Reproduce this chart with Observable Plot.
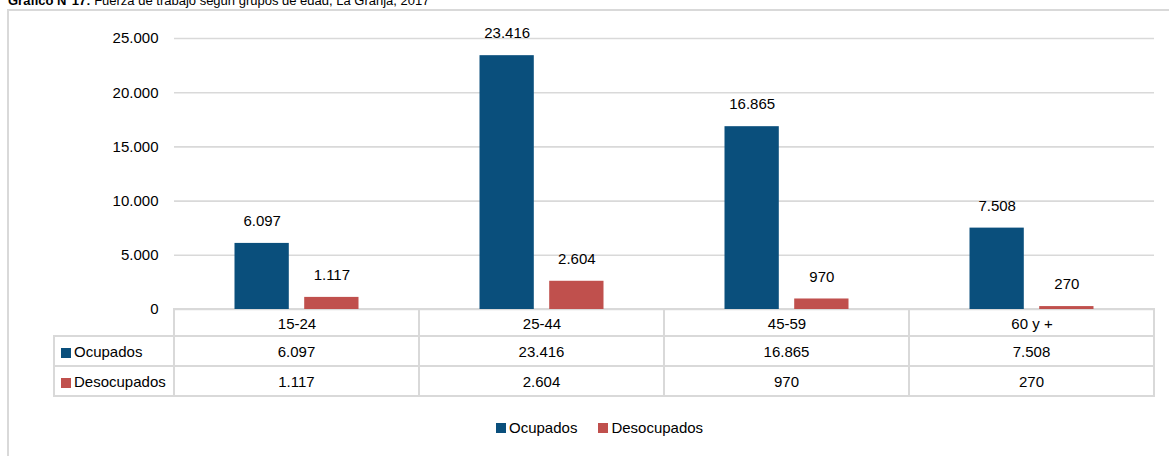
<!DOCTYPE html>
<html>
<head>
<meta charset="utf-8">
<script src="https://cdn.jsdelivr.net/npm/d3@7"></script>
<script src="https://cdn.jsdelivr.net/npm/@observablehq/plot@0.6"></script>
<style>
  body { margin:0; width:1169px; height:456px; overflow:hidden; position:relative; background:#fff;
         font-family:"Liberation Sans", Arial, sans-serif; color:#000; }
  #frame { position:absolute; left:7px; top:9px; width:1200px; height:520px; border:2px solid #d9d9d9; box-sizing:border-box; }
  #title { position:absolute; left:8px; top:-6px; font-size:13px; line-height:13px; white-space:nowrap; }
  #chart { position:absolute; left:0; top:0; z-index:2; }
  #tbl { position:absolute; left:53px; top:308px; border-collapse:collapse; table-layout:fixed; font-size:15px; z-index:1; }
  #tbl td { border:2px solid #d9d9d9; padding:0; text-align:center; }
  #tbl td.empty { border-top:none; border-left:none; }
  #tbl td.lab { text-align:left; padding-left:6px; white-space:nowrap; }
  .sw { display:inline-block; width:10px; height:10px; margin-right:3px; vertical-align:-1px; }
  #legend { position:absolute; left:496px; top:420px; font-size:15px; line-height:16px; display:flex; align-items:center; white-space:nowrap; }
  #legend .it { display:flex; align-items:center; }
</style>
</head>
<body>
<div id="frame"></div>
<div id="title"><b>Gráfico N°17:</b> Fuerza de trabajo según grupos de edad, La Granja, 2017</div>
<div id="chart"></div>
<table id="tbl"></table>
<div id="legend"></div>
<script>
const grupos = ["15-24", "25-44", "45-59", "60 y +"];
const series = ["Ocupados", "Desocupados"];
const ocupados = [6097, 23416, 16865, 7508];
const desocupados = [1117, 2604, 970, 270];
const colores = ["#0a4f7c", "#c0504d"];
const yTicks = [0, 5000, 10000, 15000, 20000, 25000];

const loc = d3.formatLocale({decimal: ",", thousands: ".", grouping: [3], currency: ["$", ""]});
const fmt = loc.format(",d");
const valores = [ocupados, desocupados];

const data = grupos.flatMap((g, i) => series.map((s, j) => ({grupo: g, serie: s, valor: valores[j][i]})));

const plot = Plot.plot({
  width: 1169, height: 336,
  marginTop: 38, marginBottom: 27, marginLeft: 174, marginRight: 15,
  style: {fontFamily: '"Liberation Sans", Arial, sans-serif', fontSize: "15px", color: "#000", background: "transparent", overflow: "visible"},
  fx: {domain: grupos, padding: 0, axis: "bottom", label: null, tickSize: 0, tickPadding: 9},
  x: {domain: series, paddingInner: 0.221, paddingOuter: 0.868, round: false, axis: null},
  y: {domain: [0, 25000], ticks: yTicks, tickFormat: fmt, tickSize: 0, tickPadding: 16, label: null},
  color: {domain: series, range: colores},
  marks: [
    Plot.gridY(yTicks, {stroke: "#d9d9d9", strokeOpacity: 1, strokeWidth: 1.6}),
    Plot.barY(data, {fx: "grupo", x: "serie", y: "valor", fill: "serie"}),
    Plot.text(data, {fx: "grupo", x: "serie", y: "valor", text: d => fmt(d.valor), dy: -22, fontSize: 15, fill: "#000"})
  ]
});
document.getElementById("chart").appendChild(plot);

// data table below the chart, built from the arrays
const tbl = document.getElementById("tbl");
const cg = document.createElement("colgroup");
[120, 245, 245, 245, 245].forEach(w => { const c = document.createElement("col"); c.style.width = w + "px"; cg.appendChild(c); });
tbl.appendChild(cg);
const hr = tbl.insertRow();
hr.style.height = "27px";
const e = hr.insertCell(); e.className = "empty";
grupos.forEach(() => hr.insertCell());
series.forEach((s, j) => {
  const r = tbl.insertRow();
  r.style.height = "30px";
  const c = r.insertCell(); c.className = "lab";
  c.innerHTML = `<span class="sw" style="background:${colores[j]}"></span>${s}`;
  valores[j].forEach(v => { r.insertCell().textContent = fmt(v); });
});

// legend
const lg = document.getElementById("legend");
series.forEach((s, j) => {
  const it = document.createElement("div");
  it.className = "it";
  it.style.marginRight = j === 0 ? "21px" : "0";
  it.innerHTML = `<span class="sw" style="background:${colores[j]};vertical-align:0"></span>${s}`;
  lg.appendChild(it);
});
</script>
</body>
</html>
